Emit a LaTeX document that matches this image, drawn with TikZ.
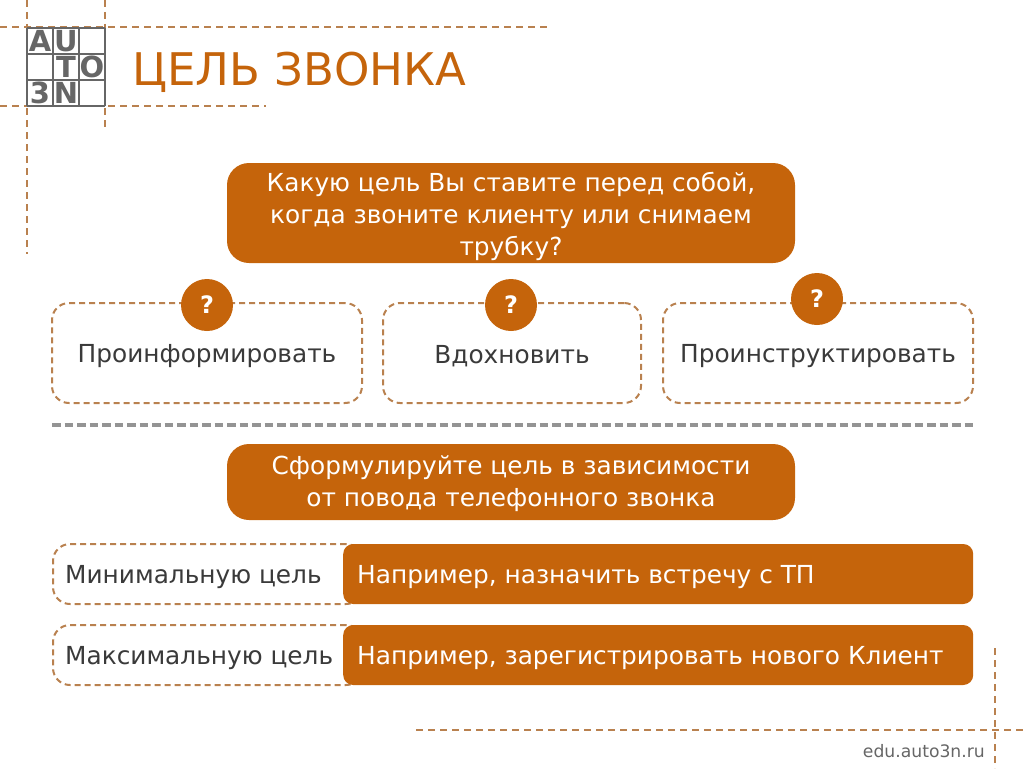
\documentclass[tikz,border=0pt]{standalone}
\usepackage{fontspec}
\setmainfont{DejaVu Sans}
\definecolor{brandorange}{HTML}{C5640B}
\definecolor{guideorange}{HTML}{B9814F}
\definecolor{darktext}{HTML}{3A3A3A}
\definecolor{logogray}{HTML}{666666}
\tikzset{
  orangebox/.style={fill=brandorange, rounded corners=#1, inner sep=0pt},
  whitetext/.style={inner sep=0pt, text=white, align=center, font=\fontsize{24.8}{32}\selectfont},
  dashbox/.style={draw=guideorange, line width=2pt, dash pattern=on 6pt off 4pt, rounded corners=17pt, fill=white},
  asklabel/.style={circle, fill=brandorange, minimum size=52pt, inner sep=0pt, text=white, font=\fontsize{24}{24}\selectfont\bfseries},
  goaltext/.style={text=darktext, inner sep=0pt, font=\fontsize{24.8}{28}\selectfont},
  guide/.style={draw=guideorange, line width=2pt, dash pattern=on 7pt off 5pt},
  logoletter/.style={text=logogray, inner sep=0pt, font=\fontsize{29}{29}\selectfont\bfseries}
}
\begin{document}
\begin{tikzpicture}[x=1pt, y=-1pt]
\useasboundingbox (0,0) rectangle (1024,768);

% Guide lines
\draw[guide] (0,27) -- (547,27);
\draw[guide] (0,106) -- (266,106);
\draw[guide] (27,0) -- (27,254);
\draw[guide] (105,0) -- (105,131);
\draw[guide] (416,730) -- (1024,730);
\draw[guide] (995,648) -- (995,768);

% Logo
\fill[white] (27,28) rectangle (105,106);
\foreach \i in {0,1,2,3} {
  \draw[logogray, line width=1.8pt] (27+26*\i,28) -- (27+26*\i,106);
  \draw[logogray, line width=1.8pt] (27,28+26*\i) -- (105,28+26*\i);
}
\node[logoletter] (logoa) at (40,41) {A};
\node[logoletter] (logou) at (66,41) {U};
\node[logoletter] (logot) at (66,67) {T};
\node[logoletter] (logoo) at (92,67) {O};
\node[logoletter] (logo3) at (40,93) {3};
\node[logoletter] (logon) at (66,93) {N};

% Title
\node[anchor=base west, inner sep=0pt, text=brandorange, font=\fontsize{45}{45}\selectfont] (title) at (132,85) {ЦЕЛЬ ЗВОНКА};

% Question
\node[orangebox=22pt, minimum width=568pt, minimum height=100pt] (question) at (511,213) {};
\node[whitetext] (questiontext) at (511,216) {Какую цель Вы ставите перед собой,\\когда звоните клиенту или снимаем\\трубку?};

% Goal boxes
\node[dashbox, minimum width=310pt, minimum height=100pt] (inform) at (207,353) {};
\node[dashbox, minimum width=258pt, minimum height=100pt] (inspire) at (512,353) {};
\node[dashbox, minimum width=310pt, minimum height=100pt] (instruct) at (818,353) {};
\node[goaltext] (informtext) at (207,356) {Проинформировать};
\node[goaltext] (inspiretext) at (512,356) {Вдохновить};
\node[goaltext] (instructtext) at (818,356) {Проинструктировать};
\node[asklabel] (askone) at (207,305) {?};
\node[asklabel] (asktwo) at (511,305) {?};
\node[asklabel] (askthree) at (817,299) {?};

% Separator
\draw[logogray!70, line width=4pt, dash pattern=on 8.5pt off 4pt] (52,425) -- (973,425);

% Formulate
\node[orangebox=22pt, minimum width=568pt, minimum height=76pt] (formulate) at (511,482) {};
\node[whitetext] (formulatetext) at (511,484) {Сформулируйте цель в зависимости\\от повода телефонного звонка};

% Examples
\node[dashbox, minimum width=310pt, minimum height=60pt, anchor=west] (minbox) at (52,574) {};
\node[dashbox, minimum width=310pt, minimum height=60pt, anchor=west] (maxbox) at (52,655) {};
\node[goaltext, anchor=west] (mintext) at (65,577) {Минимальную цель};
\node[goaltext, anchor=west] (maxtext) at (65,658) {Максимальную цель};
\node[orangebox=10pt, minimum width=630pt, minimum height=60pt, anchor=west] (minexample) at (343,574) {};
\node[orangebox=10pt, minimum width=630pt, minimum height=60pt, anchor=west] (maxexample) at (343,655) {};
\node[whitetext, anchor=west] (minexampletext) at (357,577) {Например, назначить встречу с ТП};
\node[whitetext, anchor=west] (maxexampletext) at (357,658) {Например, зарегистрировать нового Клиент};

% Footer
\node[anchor=base east, inner sep=0pt, text=logogray, font=\fontsize{17.2}{18}\selectfont] (site) at (985,757) {edu.auto3n.ru};

\end{tikzpicture}
\end{document}
